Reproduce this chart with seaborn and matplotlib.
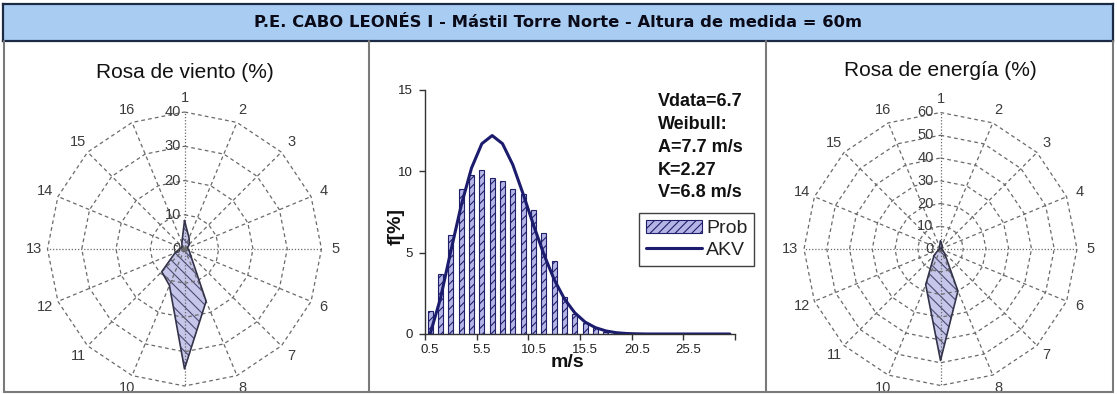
import numpy as np
import pandas as pd
import matplotlib
matplotlib.use("Agg")
import matplotlib.pyplot as plt
import seaborn as sns
from matplotlib.lines import Line2D
from matplotlib.patches import Patch

# ---------------- data ----------------
title_text = "P.E. CABO LEONÉS I - Mástil Torre Norte - Altura de medida = 60m"
directions = ["1", "2", "3", "4", "5", "6", "7", "8", "9", "10", "11", "12", "13", "14", "15", "16"]
# the reference does not show the label of direction 9 (it falls below the picture)
hidden_direction_labels = ["9"]
wind_pct = [8.3, 3.5, 2.0, 1.0, 1.0, 1.5, 2.5, 16.5, 35.0, 11.5, 9.4, 3.0, 1.5, 1.0, 1.0, 2.0]
energy_pct = [3.5, 1.8, 1.0, 0.5, 0.3, 0.8, 2.5, 20.0, 49.0, 17.0, 4.0, 1.0, 0.3, 0.2, 0.3, 1.2]
wind_rings = [0, 10, 20, 30, 40]
energy_rings = [0, 10, 20, 30, 40, 50, 60]

speed_labels = ["0.5", "1.5", "2.5", "3.5", "4.5", "5.5", "6.5", "7.5", "8.5", "9.5",
                "10.5", "11.5", "12.5", "13.5", "14.5", "15.5", "16.5", "17.5", "18.5", "19.5",
                "20.5", "21.5", "22.5", "23.5", "24.5", "25.5", "26.5", "27.5", "28.5", "29.5"]
prob_pct = [1.4, 3.7, 6.1, 8.9, 9.8, 10.1, 9.6, 9.4, 8.9, 8.6,
            7.6, 6.2, 4.5, 2.3, 1.2, 0.7, 0.35, 0.15, 0.05, 0.0,
            0.0, 0.0, 0.0, 0.0, 0.0, 0.0, 0.0, 0.0, 0.0, 0.0]
akv_pct = [0.0, 2.2, 5.1, 7.9, 10.2, 11.7, 12.2, 11.7, 10.4, 8.6,
           6.7, 4.9, 3.35, 2.15, 1.3, 0.73, 0.39, 0.19, 0.08, 0.03,
           0.01, 0.0, 0.0, 0.0, 0.0, 0.0, 0.0, 0.0, 0.0, 0.0]
speed_ticks = ["0.5", "5.5", "10.5", "15.5", "20.5", "25.5"]
y_ticks = [0, 5, 10, 15]
stats_lines = ["Vdata=6.7", "Weibull:", "A=7.7 m/s", "K=2.27", "V=6.8 m/s"]

# ---------------- style ----------------
sns.set_theme(style="white")
plt.rcParams["font.family"] = ["Liberation Sans", "DejaVu Sans"]
plt.rcParams["hatch.linewidth"] = 0.8

W, H = 1117, 394
fig = plt.figure(figsize=(W / 100, H / 100), dpi=100)
fig.patch.set_facecolor("white")

def fx(px):
    return px / W

def fy(py):
    return 1 - py / H

# title bar
tax = fig.add_axes([fx(3), fy(41), fx(1110), 37 / H])
tax.set_facecolor("#a9cdf2")
tax.set_xticks([]); tax.set_yticks([])
for sp in tax.spines.values():
    sp.set_color("#1c2b45"); sp.set_linewidth(1.6)
tax.text(0.5, 0.5, title_text, ha="center", va="center", fontsize=11.8,
         fontweight="bold", family=["DejaVu Sans"], color="#0a0a18")

# panel frame lines
for xp in [4, 369, 766, 1113]:
    fig.add_artist(Line2D([fx(xp), fx(xp)], [fy(41), fy(392)], transform=fig.transFigure,
                          color="#7a7a7a", lw=1.5))
fig.add_artist(Line2D([fx(4), fx(1113)], [fy(392), fy(392)], transform=fig.transFigure,
                      color="#7a7a7a", lw=1.5))

# ---------------- roses ----------------
GRID = "#6a6a6a"

def rose(cx, cy, rad, values, rings, title, title_y, label_off):
    ax = fig.add_axes([fx(cx - rad), fy(cy + rad), 2 * rad / W, 2 * rad / H], projection="polar")
    ax.set_theta_zero_location("N")
    ax.set_theta_direction(-1)
    n = len(directions)
    theta = np.deg2rad(np.arange(n) * 360.0 / n)
    rmax = rings[-1]
    ax.set_ylim(0, rmax)
    ax.set_xticks([]); ax.set_yticks([])
    ax.grid(False)
    ax.spines["polar"].set_visible(False)
    ax.patch.set_alpha(0)
    tc = np.append(theta, theta[0])
    for r in rings[1:]:
        ax.plot(tc, [r] * (n + 1), color=GRID, lw=0.9, ls=(0, (3, 2.5)), clip_on=False)
    for i, t in enumerate(theta):
        ls = (0, (1, 1.5)) if i % 4 == 0 else (0, (3, 2.5))
        ax.plot([t, t], [0, rmax], color=GRID, lw=0.9, ls=ls, clip_on=False)
    vals = np.append(values, values[0])
    ax.fill(tc, vals, facecolor="#c6c6ea", edgecolor="#4a4a72", hatch="\\\\\\", lw=0)
    ax.plot(tc, vals, color="#33334a", lw=1.2)
    for lab, t in zip(directions, theta):
        if lab in hidden_direction_labels:
            continue
        ax.text(t, rmax * 1.1, lab, ha="center", va="center", fontsize=10.5, color="#3c3c3c")
    for r in rings:
        ax.annotate(str(r), xy=(0, r), xytext=(label_off, 0), textcoords="offset points",
                    ha="right", va="center", fontsize=10.5, color="#3c3c3c")
    fig.text(fx(cx), fy(title_y), title, ha="center", va="center", fontsize=15, color="#111111")
    return ax

rose(184.5, 249, 137, wind_pct, wind_rings, "Rosa de viento (%)", 72, -2.5)
rose(940.5, 249, 136.5, energy_pct, energy_rings, "Rosa de energía (%)", 70, -5)

# ---------------- histogram ----------------
hax = fig.add_axes([fx(425), fy(334), 310 / W, 244 / H])
df = pd.DataFrame({"speed": speed_labels, "prob": prob_pct})
sns.barplot(data=df, x="speed", y="prob", ax=hax, color="#b4b4e6", width=0.48,
            saturation=1, edgecolor="#20206a", linewidth=0.8)
for p in hax.patches:
    p.set_hatch("////")
sns.lineplot(x=np.arange(len(akv_pct)), y=akv_pct, ax=hax, color="#1c1c6e", lw=2.2)
hax.set_xlim(-0.5, len(speed_labels) - 0.5)
hax.set_ylim(0, 15)
tick_pos = [speed_labels.index(s) for s in speed_ticks]
hax.set_xticks(tick_pos)
hax.set_xticklabels(speed_ticks, fontsize=9.5, color="#222222")
hax.set_xticks(np.arange(-0.5, len(speed_labels), 5), minor=True)
hax.tick_params(axis="x", which="major", length=0, pad=7)
hax.tick_params(axis="x", which="minor", length=4, width=1, color="#333333", direction="out", bottom=True)
hax.set_yticks(y_ticks)
hax.set_yticklabels([str(v) for v in y_ticks], fontsize=9.5, color="#222222")
hax.tick_params(axis="y", length=4, width=1, color="#333333", direction="out", left=True, pad=5)
for s in ["top", "right"]:
    hax.spines[s].set_visible(False)
for s in ["left", "bottom"]:
    hax.spines[s].set_color("#333333"); hax.spines[s].set_linewidth(1)
hax.set_facecolor("white")
hax.set_xlabel("m/s", fontsize=14, fontweight="bold", color="#111111")
hax.xaxis.set_label_coords(0.461, -0.08)
hax.set_ylabel("f[%]", fontsize=14, fontweight="bold", color="#111111")
hax.yaxis.set_label_coords(-0.066, 0.44)

for i, line in enumerate(stats_lines):
    fig.text(fx(658), fy(101.7 + i * 22.8), line, ha="left", va="center", fontsize=13,
             fontweight="bold", color="#111111")

handles = [Patch(facecolor="#b4b4e6", edgecolor="#20206a", hatch="////", lw=0.8),
           Line2D([], [], color="#1c1c6e", lw=2.2)]
leg = fig.legend(handles, ["Prob", "AKV"], loc="upper left", bbox_to_anchor=(fx(639), fy(213)),
                 frameon=True, fancybox=False, edgecolor="#111111", fontsize=14,
                 handlelength=2.9, handleheight=0.7, handletextpad=0.2, labelspacing=0.2,
                 borderpad=0.35, borderaxespad=0)
leg.get_frame().set_linewidth(1.0)
for t in leg.get_texts():
    t.set_color("#222222")

fig.savefig("out.png", dpi=100, facecolor="white")
